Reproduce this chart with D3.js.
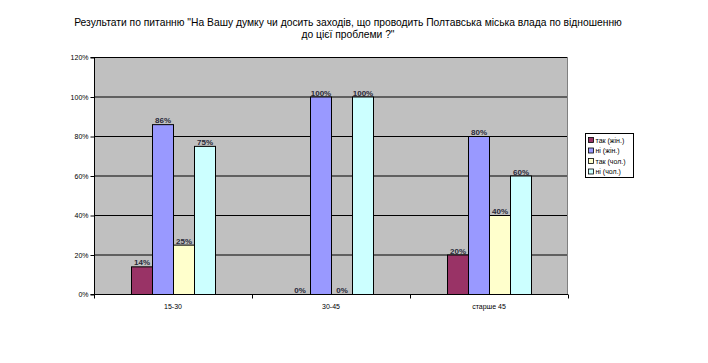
<!DOCTYPE html>
<html>
<head>
<meta charset="utf-8">
<script src="https://cdn.jsdelivr.net/npm/d3@7"></script>
<style>
  body { margin: 0; background: #fff; }
  text { font-family: "Liberation Sans", Arial, sans-serif; }
</style>
</head>
<body>
<div id="chart"></div>
<script>
// chart data
var categories = ["15-30", "30-45", "старше 45"];
var seriesNames = ["так (жін.)", "ні (жін.)", "так (чол.)", "ні (чол.)"];
var seriesColors = ["#993366", "#9999FF", "#FFFFCC", "#CCFFFF"];
var takZhin = [14, 0, 20];
var niZhin = [86, 100, 80];
var takChol = [25, 0, 40];
var niChol = [75, 100, 60];
var yTicks = [0, 20, 40, 60, 80, 100, 120];

var series = [takZhin, niZhin, takChol, niChol];

var W = 708, H = 363;
var margin = { top: 57, right: 140, bottom: 69, left: 94 },
    width = 568 - margin.left,
    height = 294 - margin.top;

var svg = d3.select("#chart").append("svg")
    .attr("width", W)
    .attr("height", H);

// title
var title = svg.append("text")
    .attr("x", 348)
    .attr("y", 26)
    .attr("text-anchor", "middle")
    .style("font-size", "10.3px")
    .attr("fill", "#000");
title.append("tspan").attr("x", 348).text("Результати по питанню \"На Вашу думку чи досить заходів, що проводить Полтавська міська влада по відношенню");
title.append("tspan").attr("x", 348).attr("dy", "12").text("до цієї проблеми ?\"");

var g = svg.append("g")
    .attr("transform", "translate(" + margin.left + "," + margin.top + ")");

var x0 = d3.scaleBand()
    .domain(categories)
    .range([0, width]);

var x1 = d3.scaleBand()
    .domain(d3.range(series.length))
    .range([0, 84]);

var y = d3.scaleLinear()
    .domain([0, 120])
    .range([height, 0]);

// plot background
g.append("rect")
    .attr("width", width)
    .attr("height", height)
    .attr("fill", "#C0C0C0");

// gridlines
g.selectAll("line.grid")
    .data(yTicks.slice(1))
    .enter().append("line")
    .attr("class", "grid")
    .attr("x1", 0)
    .attr("x2", width)
    .attr("y1", function(d) { return y(d) + 0.5; })
    .attr("y2", function(d) { return y(d) + 0.5; })
    .attr("stroke", "#000")
    .attr("stroke-width", 1);

g.append("line")
    .attr("x1", width - 0.5).attr("x2", width - 0.5)
    .attr("y1", 0).attr("y2", height)
    .attr("stroke", "#808080");

// bars
var groups = g.selectAll("g.cat")
    .data(categories)
    .enter().append("g")
    .attr("class", "cat")
    .attr("transform", function(d) {
        return "translate(" + (x0(d) + (x0.bandwidth() - 84) / 2) + ",0)";
    });

groups.each(function(cat, ci) {
    var grp = d3.select(this);
    series.forEach(function(s, si) {
        var v = s[ci];
        if (v > 0) {
            grp.append("rect")
                .attr("x", x1(si) + 0.5)
                .attr("y", y(v) + 0.5)
                .attr("width", x1.bandwidth())
                .attr("height", height - y(v))
                .attr("fill", seriesColors[si])
                .attr("stroke", "#000")
                .attr("stroke-width", 1);
        }
        grp.append("text")
            .attr("x", x1(si) + x1.bandwidth() / 2 + 0.5)
            .attr("y", y(v) - 1)
            .attr("text-anchor", "middle")
            .style("font-size", "8px")
            .style("font-weight", "bold")
            .attr("fill", "#2a2a3a")
            .text(v + "%");
    });
});

// y axis
var yAxis = d3.axisLeft(y)
    .tickValues(yTicks)
    .tickSize(4)
    .tickFormat(function(d) { return d + "%"; });

var ya = g.append("g")
    .attr("transform", "translate(0.5,0.5)")
    .call(yAxis);
ya.select(".domain").attr("stroke", "#000").attr("d", "M-4," + height + "H0V0H-4");
ya.selectAll("text").style("font-size", "7px").attr("fill", "#000").attr("x", -6);

// x axis with ticks on category borders
var xa = g.append("g")
    .attr("transform", "translate(0," + (height + 0.5) + ")");
xa.append("line")
    .attr("x1", 0).attr("x2", width)
    .attr("stroke", "#000");
xa.selectAll("line.tick")
    .data(categories.map(function(c) { return x0(c) + x0.bandwidth(); }).concat([0]))
    .enter().append("line")
    .attr("class", "tick")
    .attr("x1", function(d) { return d + 0.5; })
    .attr("x2", function(d) { return d + 0.5; })
    .attr("y1", 0).attr("y2", 4)
    .attr("stroke", "#000");
xa.selectAll("text")
    .data(categories)
    .enter().append("text")
    .attr("x", function(d) { return x0(d) + x0.bandwidth() / 2; })
    .attr("y", 14)
    .attr("text-anchor", "middle")
    .style("font-size", "7px")
    .attr("fill", "#000")
    .text(function(d) { return d; });

// legend
var legend = svg.append("g")
    .attr("transform", "translate(585.5,133.5)");
legend.append("rect")
    .attr("width", 48)
    .attr("height", 44)
    .attr("fill", "#fff")
    .attr("stroke", "#000");
var items = legend.selectAll("g.item")
    .data(seriesNames)
    .enter().append("g")
    .attr("class", "item")
    .attr("transform", function(d, i) { return "translate(3," + (4 + i * 10.5) + ")"; });
items.append("rect")
    .attr("width", 5)
    .attr("height", 5)
    .attr("fill", function(d, i) { return seriesColors[i]; })
    .attr("stroke", "#000")
    .attr("stroke-width", 0.8);
items.append("text")
    .attr("x", 7)
    .attr("y", 5)
    .style("font-size", "7px")
    .attr("fill", "#000")
    .text(function(d) { return d; });
</script>
</body>
</html>
